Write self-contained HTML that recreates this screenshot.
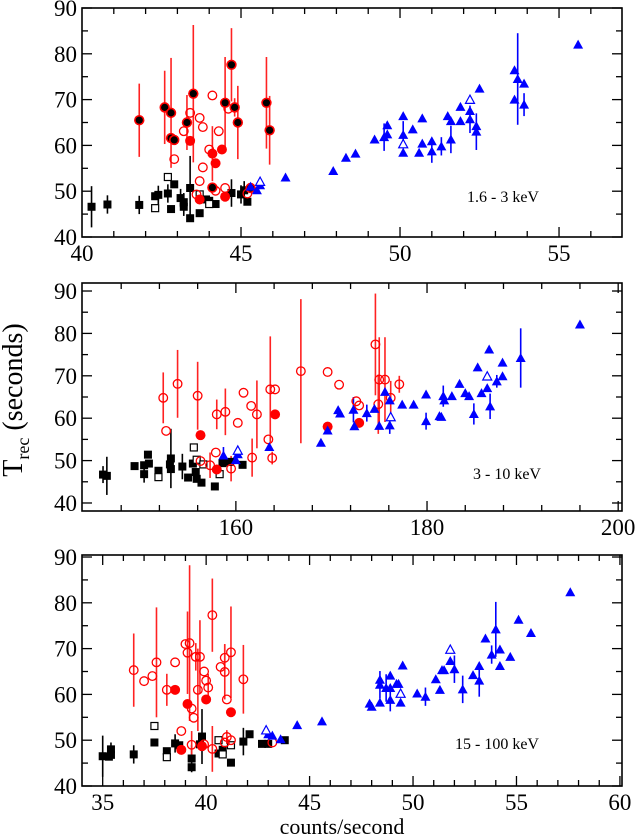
<!DOCTYPE html>
<html><head><meta charset="utf-8"><style>
html,body{margin:0;padding:0;background:#fff;}
svg{display:block;font-family:"Liberation Serif",serif;}
</style></head><body>
<svg id="chart" width="640" height="837" viewBox="0 0 640 837" xmlns="http://www.w3.org/2000/svg">
<text x="22" y="400" transform="rotate(-90 22 400)" text-anchor="middle" font-size="28">T<tspan font-size="18" dy="7">rec</tspan><tspan dy="-7">  (seconds)</tspan></text>
<text x="342" y="834" text-anchor="middle" font-size="22">counts/second</text>
</svg>
<script>
// ---- Panel 1 (1.6 - 3 keV) data ----
const p1SqF = {x:[40.3,40.8,41.8,42.3,42.4,42.7,42.8,42.9,43.1,43.2,43.2,43.4,43.4,43.7,43.9,44.0,44.2,44.7,45.0,45.1,45.2],
 y:[46.6,47.1,47,48.9,49.2,49.5,46.1,51.5,48.5,47.6,46.6,50.7,44.1,45.2,48.2,47.9,47.2,49.6,49.3,50.2,47.7],
 e:[4.5,2,2,0,2,2,0,0,2,2,2,7,0,0,0,0,0,3,2,2,0]};
const p1SqO = {x:[42.7,42.3,43.7,44.0], y:[53.1,46.3,49.3,47.2]};
const p1Dot = {x:[41.8,42.6,42.8,42.8,42.9,43.3,43.5,44.5,44.7,44.8,44.9,45.8,45.9,45.3,44.1],
 y:[65.5,68.3,67.1,61.6,61.2,65,71.3,69.3,77.6,68.3,65,69.3,63.3,50.7,50.8],
 e:[8,8,12,0,0,6,15,10,8,2,8,10,7.5,0,0]};
const p1CO = {x:[44.1,43.4,43.7,43.8,43.2,44.3,42.9,43.8,44.0,43.7,44.2,44.5,43.6,45.2,44.6],
 y:[70.9,67.1,66,64,63.1,63.1,57,55.2,59.1,52.2,50.1,50.7,49.3,49.5,68]};
const p1CF = {x:[43.4,44.1,44.4,44.2,43.7,44.5], y:[61,58.2,59.1,56.1,48.2,48.8], e:[0,6,0,0,0,0]};
const p1TF = {x:[45.3,45.5,45.6,46.4,47.9,48.3,48.6,49.2,49.5,49.6,49.6,50.1,50.1,50.1,50.4,50.7,50.6,50.7,51.0,51.0,51.3,51.5,51.6,51.6,51.9,51.9,52.2,52.2,52.4,52.4,52.5,53.6,53.7,53.6,53.9,53.9,55.6],
 y:[51,50.2,51.3,53,54.4,57.3,58.2,61.3,61.8,64.4,62.4,66.4,62.3,58.4,63.5,65.9,58.4,60.4,60.9,58.7,59.8,66.4,65.3,61.3,68.4,65.3,67.5,65.7,64.2,63,72.4,76.4,74.5,70,73.5,68.9,82],
 e:[0,0,0,0,0,0,0,0,3,0,0,0,3,0,0,0,0,0,0,2.5,2,0,0,3,0,0,0,3,0,4,0,0,10,0,0,2.5,0]};
const p1TO = {x:[45.6,52.2,50.1], y:[52.1,70,60.3]};
const p1XTicks = [40,45,50,55];
// ---- Panel 2 (3 - 10 keV) data ----
const p2SqF = {x:[146.1,146.5,149.4,150.4,150.4,150.8,150.9,151.9,153.1,153.2,153.2,154.4,155.0,155.5,155.8,155.9,156.4,157.8,158.6,159.4,160.7],
 y:[46.7,46.4,48.7,46.8,48.9,51.4,49.3,47.6,49.1,50.5,48,48.6,46,49.3,47.3,45.7,44.8,43.9,49.4,49.7,49],
 e:[2,4.5,0,2,0,0,0,0,0,7,0,3,0,0,0,0,0,0,0,0,0]};
const p2SqO = {x:[155.6,151.9,155.9,156.6,158.3], y:[53.1,46.1,50.2,49.1,46.8]};
const p2CO = {x:[152.4,152.7,153.9,156.0,156.3,158.0,158.9,157.9,157.3,159.5,160.2,160.8,161.6,162.2,161.7,163.4,163.6,164.1,163.8,166.8,169.6,170.8,172.6,172.9,174.6,175.0,175.6,177.1,174.9,176.2],
 y:[64.8,57,68.1,65.3,49.9,60.9,61.5,51.9,48.9,48.1,58.9,66,62.9,60.9,50.7,55,66.8,66.8,50.6,71.1,70.9,67.9,64,63,77.4,69.1,69.1,68,63.3,64.8],
 e:[6,0,8,8,0,3.5,5.5,0,3,3,0,0,0,8,4.5,0,12.5,0,1.5,17,0,0,0,0,12,10,10,2,7,4]};
const p2CF = {x:[156.3,158.0,164.1,169.6,172.9], y:[56,47.9,60.9,58,58.9]};
const p2TF = {x:[158.7,160,160.2,163.5,168.9,169.6,170.7,170.9,172.3,172.4,173.7,174.5,175,175.6,176.1,176.1,177.4,178.6,179.9,179.9,181.3,181.5,181.7,181.8,182.6,183.4,184.0,184.4,184.9,185.3,185.7,186.3,186.5,186.6,187.3,187.9,187.9,189.8,196],
 y:[51.2,50.1,51.5,53.2,54.2,57.1,61.9,61.1,62,58.1,61.2,62.2,58.2,66.2,64.2,58.3,63.2,63.2,65.6,59.3,60.5,60.3,65.2,64.2,65.2,68.1,65.9,65.2,61,72,65.9,67.1,76.2,62.8,68.7,73.1,69.9,74.2,82.1],
 e:[2,0,0,0,0,0,0,0,3,0,2,0,0,0,0,2,0,0,0,2,0,0,2.5,0,0,0,0,0,2.5,0,0,0,0,3,1.5,0,0,7,0]};
const p2TO = {x:[160.2,176.2,186.3], y:[52.4,60.3,69.9]};
const p2XTicks = [160,180,200];
// ---- Panel 3 (15 - 100 keV) data ----
const p3SqF = {x:[35.0,35.3,35.4,35.4,36.5,37.5,38.1,38.5,38.7,39.3,39.3,39.7,39.8,40.6,40.8,41.2,41.8,42.1,42.7,43.0,43.8],
 y:[46.5,46.4,48,46.8,46.9,49.5,47.6,49.3,48.9,46,44.1,49.1,50.8,47.1,47.9,45.1,49.7,51.3,49.2,49.2,50],
 e:[4.5,0,1.5,0,2,0,0,2,0,3,0,0,6,0,0,0,3,0,0,0,0]};
const p3SqO = {x:[37.5,38.1,40.6,40.8,41.2], y:[53.1,46.3,50,46.9,48.9]};
const p3CO = {x:[36.5,37.0,37.4,37.6,38.1,38.5,38.8,39.0,39.1,39.2,39.3,39.4,39.5,39.6,39.7,39.9,40.0,40.1,40.3,40.7,40.9,40.9,41.0,41.2,41.8,39.3,41.0,41.2,40.9,39.9,43.2,40.3],
 y:[65.3,62.9,64,67,61,67,52,71,69.1,71.2,56.9,54.9,68.2,61,68.2,65,63,61.5,77.3,66,68,64.9,58.9,69.2,63.3,49,50.7,50,49.5,49.1,49.5,48.1],
 e:[8,0,0,12,3.5,0,0,0,9,17,0,0,3,9,8,0,0,3,8,0,3,6,0,10,7.5,3,1.5,0,0,0,0,5]};
const p3CF = {x:[38.5,39.1,40.0,41.2,38.8,39.8], y:[61,57.9,58.9,56.1,47.9,48.7]};
const p3TF = {x:[43.0,43.2,43.6,44.4,45.6,47.9,48.0,48.4,48.4,48.4,48.7,48.9,48.9,48.9,49.2,49.3,49.4,49.5,50.2,50.6,51.1,51.3,51.4,51.5,51.8,52.0,52.4,52.9,53.2,53.2,53.5,53.8,54.0,54.2,54.2,54.7,55.1,55.7,57.6],
 y:[51.3,51,50.2,53.3,54.1,58,57.3,63.2,62.1,58.2,61.4,61.4,64.1,58.8,62.3,62.3,58.2,66.3,60.2,59.5,63.3,61,65.3,65.3,67.3,65.5,61.1,64.2,66.2,63,72.2,68.7,74.2,69.8,66.2,68.2,76.3,73.4,82.3],
 e:[0,0,0,0,0,0,0,0,3,0,3,0,0,2.5,0,0,0,0,0,2,0,0,0,0,0,3,3,0,0,3.5,0,2,6,0,0,0,0,0,0]};
const p3TO = {x:[42.9,51.8,49.4], y:[52.2,69.8,60.2]};
const p3XTicks = [35,40,45,50,55,60];
const yTicks = [40,50,60,70,80,90];

const NS = "http://www.w3.org/2000/svg";
const svg = document.getElementById('chart');
function mk(tag, attrs, parent){const e=document.createElementNS(NS,tag);for(const k in attrs)e.setAttribute(k,attrs[k]);(parent||svg).appendChild(e);return e;}

function panel(name, L, R, T, B, x0, x1, y0, y1, xTicks, xMinor, label, lx, ly){
  const g = mk('g',{});
  
  
  const sx = v => L + (v - x0) / (x1 - x0) * (R - L);
  const sy = v => B - (v - y0) / (y1 - y0) * (B - T);
  for (let v = Math.ceil(x0 / xMinor) * xMinor; v <= x1 + 1e-9; v += xMinor) {
    const X = sx(v); const major = xTicks.some(t => Math.abs(t - v) < 1e-6); const len = major ? 10 : 6;
    if (X <= L + 1 || X >= R - 1) continue;
    mk('line',{x1:X,y1:B,x2:X,y2:B-len,stroke:'#000','stroke-width':1.3},g);
    mk('line',{x1:X,y1:T,x2:X,y2:T+len,stroke:'#000','stroke-width':1.3},g);
  }
  for (let v = 40; v <= 90; v += 5) {
    const Y = sy(v); const len = (v % 10 === 0) ? 10 : 6;
    mk('line',{x1:L,y1:Y,x2:L+len,y2:Y,stroke:'#000','stroke-width':1.3},g);
    mk('line',{x1:R,y1:Y,x2:R-len,y2:Y,stroke:'#000','stroke-width':1.3},g);
  }
  yTicks.forEach(v => {
    const t = mk('text',{x:L-5,y:sy(v)+8,'text-anchor':'end','font-size':23},g);
    t.textContent = v;
    
    
  });
  xTicks.forEach(v => {
    const t = mk('text',{x:sx(v),y:B+24,'text-anchor':'middle','font-size':23},g);
    t.textContent = v;
    
    
  });
  const lab = mk('text',{x:lx,y:ly,'font-size':16},g);
  lab.textContent = label;
  
  
  return {g, sx, sy, frame: () => mk('rect',{x:L,y:T,width:R-L,height:B-T,fill:'none',stroke:'#000','stroke-width':1.6},g)};
}

function err(p, s, color){
  if (!s.e) return;
  s.x.forEach((x,i) => { if (s.e[i] > 0) {
    const l = mk('line',{x1:p.sx(x),x2:p.sx(x),y1:p.sy(s.y[i]-s.e[i]),y2:p.sy(s.y[i]+s.e[i]),stroke:color,'stroke-width':1.6},p.g);
    
    
  }});
}
function pts(p, s, kind){
  s.x.forEach((x,i) => {
    const X = p.sx(x), Y = p.sy(s.y[i]); let el;
    if (kind === 'sqF') el = mk('rect',{x:X-4,y:Y-4,width:8,height:8,fill:'#000'},p.g);
    else if (kind === 'sqO') el = mk('rect',{x:X-3.5,y:Y-3.5,width:7,height:7,fill:'#fff',stroke:'#000','stroke-width':1.2},p.g);
    else if (kind === 'cO') el = mk('circle',{cx:X,cy:Y,r:4.3,fill:'none',stroke:'#f00','stroke-width':1.3},p.g);
    else if (kind === 'cF') el = mk('circle',{cx:X,cy:Y,r:5,fill:'#f00'},p.g);
    else if (kind === 'dot') { el = mk('circle',{cx:X,cy:Y,r:5.2,fill:'#f00'},p.g); mk('circle',{cx:X,cy:Y,r:3.6,fill:'#000'},p.g); }
    else if (kind === 'tF') el = mk('polygon',{points:`${X-5},${Y+4} ${X+5},${Y+4} ${X},${Y-5}`,fill:'#00f'},p.g);
    else if (kind === 'tO') el = mk('polygon',{points:`${X-4.5},${Y+3.8} ${X+4.5},${Y+3.8} ${X},${Y-4.5}`,fill:'#fff',stroke:'#00f','stroke-width':1.2},p.g);
    
    
  });
}
function draw(p, sqF, sqO, cO, cF, tF, tO, dot){
  err(p, sqF, '#000'); err(p, cO, '#f22'); if (cF.e) err(p, cF, '#f22'); if (dot) err(p, dot, '#f22'); err(p, tF, '#00f');
  pts(p, sqF, 'sqF'); pts(p, sqO, 'sqO'); pts(p, cO, 'cO'); pts(p, cF, 'cF'); if (dot) pts(p, dot, 'dot');
  pts(p, tF, 'tF'); pts(p, tO, 'tO');
  p.frame();
}
const P1 = panel('panel-1-6-3kev', 82, 622, 8, 237, 40, 56.98, 40, 90, p1XTicks, 1, '1.6 - 3 keV', 467, 202);
draw(P1, p1SqF, p1SqO, p1CO, p1CF, p1TF, p1TO, p1Dot);
const P2 = panel('panel-3-10kev', 82, 622, 283, 511, 143.9, 200.4, 38.11, 91.89, p2XTicks, 4, '3 - 10 keV', 473, 479);
draw(P2, p2SqF, p2SqO, p2CO, p2CF, p2TF, p2TO, null);
const P3 = panel('panel-15-100kev', 82, 622, 555, 786, 34, 60.1, 40, 90.44, p3XTicks, 1, '15 - 100 keV', 455, 749);
draw(P3, p3SqF, p3SqO, p3CO, p3CF, p3TF, p3TO, null);
</script>
</body></html>
